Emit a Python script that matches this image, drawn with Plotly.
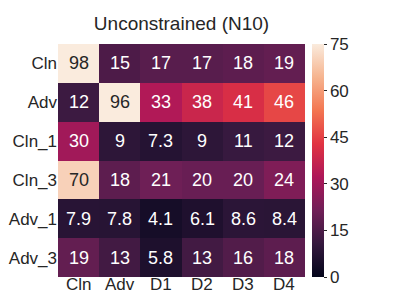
import plotly.graph_objects as go

cols = ["Cln", "Adv", "D1", "D2", "D3", "D4"]
rows = ["Cln", "Adv", "Cln_1", "Cln_3", "Adv_1", "Adv_3"]
values = [
    [98, 15, 17, 17, 18, 19],
    [12, 96, 33, 38, 41, 46],
    [30, 9, 7.3, 9, 11, 12],
    [70, 18, 21, 20, 20, 24],
    [7.9, 7.8, 4.1, 6.1, 8.6, 8.4],
    [19, 13, 5.8, 13, 16, 18],
]
labels = [
    ["98", "15", "17", "17", "18", "19"],
    ["12", "96", "33", "38", "41", "46"],
    ["30", "9", "7.3", "9", "11", "12"],
    ["70", "18", "21", "20", "20", "24"],
    ["7.9", "7.8", "4.1", "6.1", "8.6", "8.4"],
    ["19", "13", "5.8", "13", "16", "18"],
]
title = "Unconstrained (N10)"
cticks = [0, 15, 30, 45, 60, 75]

rocket = [
    [0.0, "#03051a"],
    [1/7, "#35193e"],
    [2/7, "#701f57"],
    [3/7, "#ad1759"],
    [4/7, "#e13342"],
    [5/7, "#f37651"],
    [6/7, "#f6b48f"],
    [1.0, "#faebdd"],
]

FONT = "Liberation Sans"
INK = "#262626"

fig = go.Figure(go.Heatmap(
    z=values, x=cols, y=rows, colorscale=rocket, zmin=0, zmax=75,
    hoverinfo="skip",
    colorbar=dict(
        thickness=12, len=1, lenmode="fraction", y=0.5, yanchor="middle",
        x=1.03, xanchor="left", xpad=0, ypad=0, outlinewidth=0,
        tickvals=cticks, ticks="outside", ticklen=3, tickcolor=INK,
        tickfont=dict(size=17, color=INK, family=FONT),
    ),
))

ann = []
for i, r in enumerate(rows):
    for j, c in enumerate(cols):
        v = values[i][j]
        ann.append(dict(
            x=c, y=r, text=labels[i][j], showarrow=False,
            font=dict(size=18, family=FONT,
                      color=INK if v >= 55 else "white"),
        ))
for c in cols:
    ann.append(dict(
        x=c, y=0, xref="x", yref="paper", yanchor="top", yshift=4,
        text=c, showarrow=False, font=dict(size=17, family=FONT, color=INK),
    ))

fig.update_layout(
    width=399, height=303,
    margin=dict(l=50, r=102, t=36, b=34),
    paper_bgcolor="white", plot_bgcolor="white",
    font=dict(family=FONT, size=17, color=INK),
    title=dict(text=title, x=0.5, xref="paper", xanchor="center",
               y=1 - 15/303, yref="container", yanchor="middle",
               font=dict(size=19, color=INK)),
    annotations=ann,
    xaxis=dict(showgrid=False, zeroline=False, ticks="", ticklen=0,
               automargin=False, showticklabels=False),
    yaxis=dict(showgrid=False, zeroline=False, autorange="reversed",
               automargin=False, ticklabelstandoff=0,
               ticks="", ticklen=0, tickfont=dict(size=17)),
)
fig.write_html("out.html")
